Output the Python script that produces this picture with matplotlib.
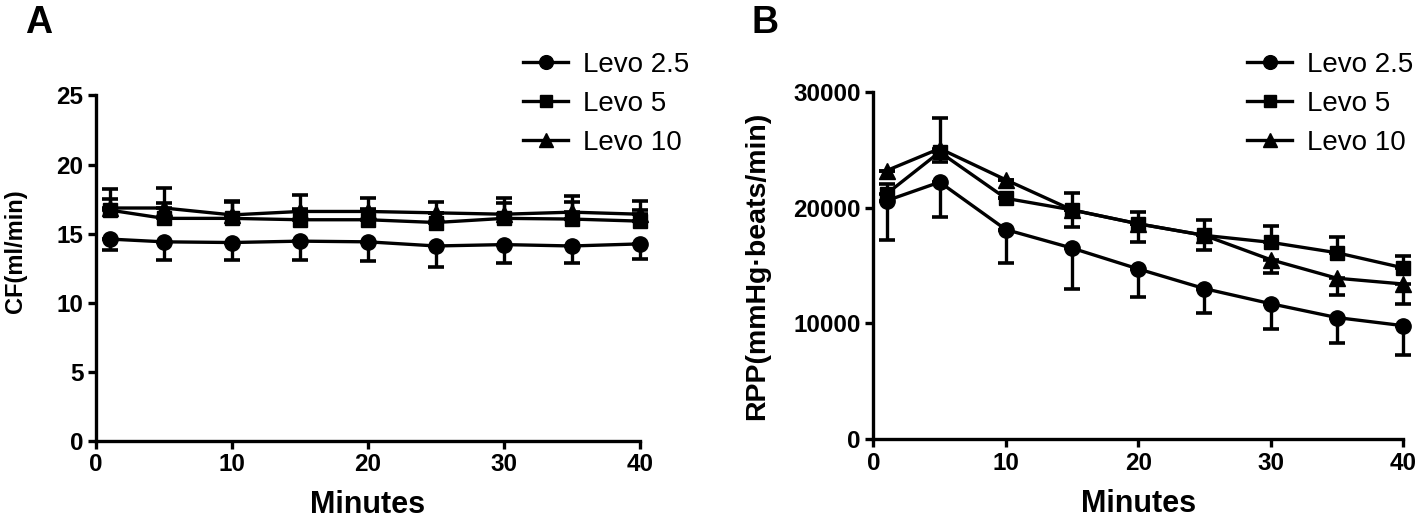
import numpy as np
import matplotlib
matplotlib.use("Agg")
import matplotlib.pyplot as plt

plt.rcParams["font.family"] = ["Liberation Sans", "DejaVu Sans"]

minutes = [1, 5, 10, 15, 20, 25, 30, 35, 40]
labels = ["Levo 2.5", "Levo 5", "Levo 10"]

# panel A: coronary flow (ml/min)
cf_25 = [14.6, 14.4, 14.35, 14.45, 14.4, 14.1, 14.2, 14.1, 14.25]
cf_25_lo = [0.8, 1.3, 1.3, 1.4, 1.4, 1.5, 1.3, 1.2, 1.1]
cf_5 = [16.7, 16.1, 16.1, 16.0, 16.0, 15.8, 16.1, 16.05, 15.9]
cf_5_up = [0.8, 1.1, 1.2, 0.8, 0.8, 0.7, 1.1, 1.25, 0.8]
cf_10 = [16.85, 16.85, 16.35, 16.6, 16.6, 16.5, 16.4, 16.55, 16.4]
cf_10_up = [1.35, 1.45, 1.0, 1.2, 1.0, 0.8, 1.2, 1.2, 0.95]

# panel B: rate pressure product
rpp_25 = [20600, 22200, 18100, 16500, 14700, 13000, 11700, 10500, 9800]
rpp_25_lo = [3400, 3000, 2900, 3500, 2400, 2100, 2200, 2200, 2500]
rpp_5 = [21200, 24800, 20800, 19800, 18600, 17600, 17000, 16100, 14800]
rpp_5_up = [800, 2900, 0, 1450, 1000, 1300, 1400, 1400, 1000]
rpp_5_lo = [0, 0, 0, 1500, 1600, 1300, 0, 0, 0]
rpp_10 = [23200, 25100, 22400, 19800, 18600, 17600, 15500, 13900, 13400]
rpp_10_lo = [0, 1150, 0, 0, 0, 0, 1150, 1450, 1700]

markers = ["o", "s", "^"]
msizes = [11, 10, 11]


def draw(ax, series, errs, ylim, yticks, ylabel, ylab_size):
    for y, e, m, ms, lab in zip(series, errs, markers, msizes, labels):
        ax.errorbar(minutes, y, yerr=e, fmt="none", ecolor="black", elinewidth=2.4,
                    capsize=6, capthick=2.6, clip_on=False, zorder=2)
        ax.plot(minutes, y, color="black", lw=2.4, marker=m, ms=ms, label=lab,
                clip_on=False, zorder=3)
    ax.set_xlim(0, 40)
    ax.set_ylim(*ylim)
    ax.set_xticks([0, 10, 20, 30, 40])
    ax.set_yticks(yticks)
    for s in ["top", "right"]:
        ax.spines[s].set_visible(False)
    for s in ["left", "bottom"]:
        ax.spines[s].set_linewidth(2.4)
    ax.tick_params(width=2.4, length=6, labelsize=17.5, pad=3)
    for t in ax.get_xticklabels() + ax.get_yticklabels():
        t.set_fontweight("bold")
    ax.set_xlabel("Minutes", fontsize=22, fontweight="bold")
    ax.set_ylabel(ylabel, fontsize=ylab_size, fontweight="bold")


fig = plt.figure(figsize=(14.18, 5.19), dpi=100)
axA = fig.add_axes([0.0677, 0.151, 0.3836, 0.665])
axB = fig.add_axes([0.616, 0.154, 0.3734, 0.669])

zero = [0] * len(minutes)
draw(axA, [cf_25, cf_5, cf_10],
     [[cf_25_lo, zero], [zero, cf_5_up], [zero, cf_10_up]],
     (0, 25), [0, 5, 10, 15, 20, 25], "CF(ml/min)", 17)
draw(axB, [rpp_25, rpp_5, rpp_10],
     [[rpp_25_lo, zero], [rpp_5_lo, rpp_5_up], [rpp_10_lo, zero]],
     (0, 30000), [0, 10000, 20000, 30000], "RPP(mmHg·beats/min)", 20.5)

axA.yaxis.set_label_coords(-0.127, 0.55)
axB.yaxis.set_label_coords(-0.196, 0.5)
axA.xaxis.set_label_coords(0.5, -0.143)
axB.xaxis.set_label_coords(0.5, -0.143)

for ax, lx in [(axA, 523 / 1418), (axB, 1247 / 1418)]:
    ax.legend(loc="upper left", bbox_to_anchor=(lx, 1 - 52 / 519), bbox_transform=fig.transFigure,
              frameon=False, fontsize=20, borderaxespad=0, borderpad=0,
              handlelength=1.62, handletextpad=0.54, labelspacing=0.47, markerscale=0.9)

fig.text(25 / 1418, 1 - 33 / 519, "A", fontsize=27, fontweight="bold")
fig.text(752 / 1418, 1 - 33 / 519, "B", fontsize=27, fontweight="bold")

fig.savefig("out.png", dpi=100)
